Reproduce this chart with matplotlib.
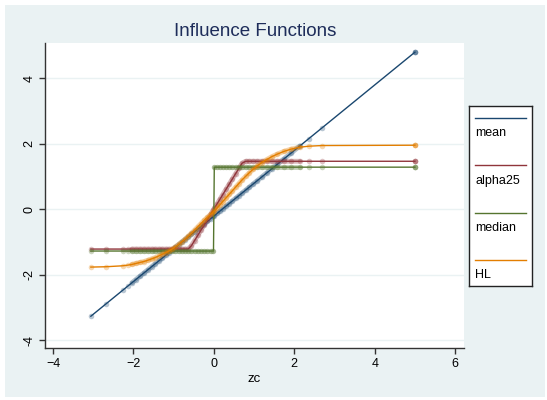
import numpy as np
import matplotlib
matplotlib.use("Agg")
import matplotlib.pyplot as plt
from matplotlib.patches import Rectangle
from matplotlib.lines import Line2D

plt.rcParams['font.family'] = ['Liberation Sans', 'DejaVu Sans']

# centred observations (three outliers at 5)
zc = [-3.06, -2.69, -2.26, -2.14, -2.04, -1.94, -1.84, -1.74, -1.64, -1.55,
      -1.46, -1.37, -1.28, -1.20, -1.12, -1.04, -0.96, -0.88, -0.80, -0.72,
      -0.64, -0.56, -0.48, -0.40, -0.32, -0.24, -0.16, -0.08, -0.01, 0.01,
      0.08, 0.15, 0.22, 0.30, 0.38, 0.46, 0.54, 0.62, 0.70, 0.79,
      0.88, 0.98, 1.08, 1.19, 1.31, 1.44, 1.58, 1.74, 1.92, 2.14,
      2.36, 2.69, 5.00, 5.00, 5.00]

mean = [-3.27, -2.90, -2.47, -2.35, -2.25, -2.15, -2.05, -1.95, -1.85, -1.76,
        -1.67, -1.58, -1.49, -1.41, -1.33, -1.25, -1.17, -1.09, -1.01, -0.93,
        -0.85, -0.77, -0.69, -0.61, -0.53, -0.45, -0.37, -0.29, -0.22, -0.20,
        -0.13, -0.06, 0.01, 0.09, 0.17, 0.25, 0.33, 0.41, 0.49, 0.58,
        0.67, 0.77, 0.87, 0.98, 1.10, 1.23, 1.37, 1.53, 1.71, 1.93,
        2.15, 2.48, 4.79, 4.79, 4.79]

alpha25 = [-1.22, -1.22, -1.22, -1.22, -1.22, -1.22, -1.22, -1.22, -1.22, -1.22,
           -1.22, -1.22, -1.22, -1.22, -1.22, -1.22, -1.22, -1.22, -1.22, -1.22,
           -1.22, -1.12, -0.96, -0.80, -0.64, -0.48, -0.32, -0.16, -0.02, 0.02,
           0.16, 0.30, 0.44, 0.60, 0.76, 0.92, 1.08, 1.24, 1.40, 1.46,
           1.46, 1.46, 1.46, 1.46, 1.46, 1.46, 1.46, 1.46, 1.46, 1.46,
           1.46, 1.46, 1.46, 1.46, 1.46]

median = [-1.28, -1.28, -1.28, -1.28, -1.28, -1.28, -1.28, -1.28, -1.28, -1.28,
          -1.28, -1.28, -1.28, -1.28, -1.28, -1.28, -1.28, -1.28, -1.28, -1.28,
          -1.28, -1.28, -1.28, -1.28, -1.28, -1.28, -1.28, -1.28, -1.28, 1.28,
          1.28, 1.28, 1.28, 1.28, 1.28, 1.28, 1.28, 1.28, 1.28, 1.28,
          1.28, 1.28, 1.28, 1.28, 1.28, 1.28, 1.28, 1.28, 1.28, 1.28,
          1.28, 1.28, 1.28, 1.28, 1.28]

hl = [-1.77, -1.76, -1.73, -1.71, -1.69, -1.66, -1.63, -1.60, -1.56, -1.52,
      -1.48, -1.43, -1.38, -1.33, -1.28, -1.22, -1.15, -1.08, -1.00, -0.92,
      -0.83, -0.74, -0.64, -0.54, -0.44, -0.34, -0.25, -0.16, -0.08, -0.06,
      0.03, 0.13, 0.23, 0.34, 0.45, 0.56, 0.67, 0.78, 0.89, 1.00,
      1.11, 1.22, 1.32, 1.42, 1.51, 1.60, 1.68, 1.76, 1.83, 1.89,
      1.92, 1.94, 1.95, 1.95, 1.95]

labels = ["mean", "alpha25", "median", "HL"]
colors = ["#1A476F", "#90353B", "#55752F", "#E37E00"]

W, H = 547, 400
fig = plt.figure(figsize=(W / 100, H / 100), dpi=100)
fig.patches.append(Rectangle((5 / W, 3 / H), 540 / W, 392 / H, transform=fig.transFigure,
                             facecolor="#EAF2F3", edgecolor="none", zorder=-10))

ax = fig.add_axes([45 / W, 52 / H, 419 / W, 305 / H])
ax.set_facecolor("white")

for y, c in zip([mean, alpha25, median, hl], colors):
    # dense part of the sample: overlapping markers form a band,
    # broken where the function jumps
    xs = np.array(zc[4:50])
    ys = np.array(y[4:50])
    cuts = np.where(np.abs(np.diff(ys)) > 1.0)[0] + 1
    for xp, yp in zip(np.split(xs, cuts), np.split(ys, cuts)):
        ax.plot(xp, yp, color=c, lw=3.5, alpha=0.35,
                solid_capstyle="round", zorder=3)
    ax.plot(zc, y, color=c, lw=1.0, zorder=3)
    ax.plot(zc, y, 'o', color=c, ms=4, mec="none", alpha=0.3, zorder=3)

ax.set_xlim(-4.2, 6.22)
ax.set_ylim(-4.24, 5.07)
ax.set_xticks([-4, -2, 0, 2, 4, 6])
ax.set_yticks([-4, -2, 0, 2, 4])
ax.set_yticklabels(["-4", "-2", "0", "2", "4"], rotation=90, va="center")
ax.grid(axis="y", color="#EAF2F3", lw=1.0, zorder=0)
ax.set_axisbelow(True)
for s in ["top", "right"]:
    ax.spines[s].set_visible(False)
for s in ["left", "bottom"]:
    ax.spines[s].set_color("#333333")
    ax.spines[s].set_linewidth(1.0)
ax.tick_params(length=4, width=1, color="#333333", labelsize=9, pad=3)
ax.set_xlabel("zc", fontsize=9.5, labelpad=2)

fig.text(255 / W, 1 - 31 / H, "Influence Functions", ha="center", va="center",
         fontsize=13.5, color="#1E2D5A")

# legend box
lg = fig.add_axes([469 / W, (H - 286) / H, 63 / W, 180 / H])
lg.set_xlim(469, 532)
lg.set_ylim(286, 106)
lg.set_xticks([])
lg.set_yticks([])
for s in lg.spines.values():
    s.set_color("#222222")
    s.set_linewidth(1.0)
line_y = [118, 165, 213, 260]
text_y = [133, 181, 228, 275]
for lab, c, ly, ty in zip(labels, colors, line_y, text_y):
    lg.add_line(Line2D([475, 526], [ly, ly], color=c, lw=1.0))
    lg.text(475, ty, lab, fontsize=9, va="center", ha="left", color="black")

fig.savefig("out.png", dpi=100)
